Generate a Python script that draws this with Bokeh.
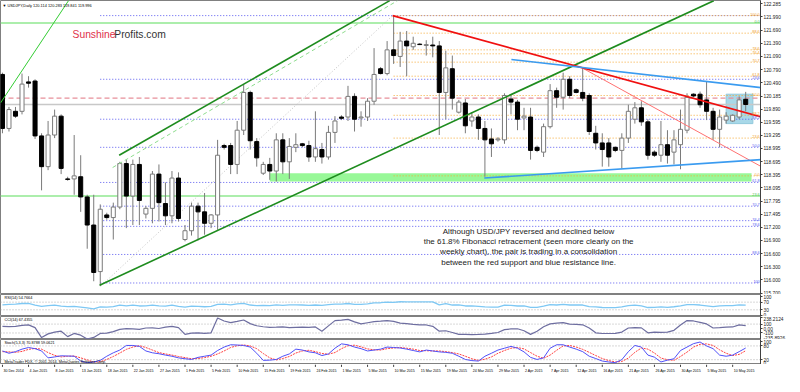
import numpy as np
from bokeh.plotting import figure
from bokeh.layouts import column
from bokeh.models import (Range1d, FixedTicker, PrintfTickFormatter, Label,
                          ColumnDataSource, CustomJSTickFormatter)
from bokeh.core.properties import value
from bokeh.embed import file_html
from bokeh.resources import INLINE

FONT = "Liberation Sans"

# ---------------- data ----------------
date_labels = ["30 Dec 2014", "4 Jan 2015", "8 Jan 2015", "13 Jan 2015", "18 Jan 2015",
               "22 Jan 2015", "27 Jan 2015", "1 Feb 2015", "5 Feb 2015", "10 Feb 2015",
               "15 Feb 2015", "19 Feb 2015", "24 Feb 2015", "1 Mar 2015", "5 Mar 2015",
               "10 Mar 2015", "15 Mar 2015", "19 Mar 2015", "24 Mar 2015", "29 Mar 2015",
               "2 Apr 2015", "7 Apr 2015", "12 Apr 2015", "16 Apr 2015", "21 Apr 2015",
               "26 Apr 2015", "30 Apr 2015", "5 May 2015", "10 May 2015"]
date_bar_index = list(range(0, 113, 4))

opens = [120.68, 119.45, 119.84, 119.84, 120.51, 120.53, 119.28, 118.58, 119.30, 119.73,
         118.30, 118.30, 118.35, 117.89, 117.25, 116.19, 117.48, 117.42, 117.66, 118.65,
         117.91, 118.63, 117.50, 117.63, 118.41, 117.74, 117.46, 118.32, 116.92, 117.12,
         117.68, 117.55, 117.29, 117.48, 119.06, 119.06, 118.63, 119.41, 120.27, 119.15,
         118.43, 118.63, 118.48, 119.19, 118.69, 119.02, 119.10, 119.06, 118.80, 118.97,
         118.80, 119.36, 119.71, 119.71, 120.18, 119.69, 119.71, 120.07, 120.81, 120.70,
         121.24, 121.09, 121.44, 121.31, 121.37, 121.34, 121.35, 121.33, 120.27, 120.81,
         119.82, 120.03, 119.62, 119.71, 119.45, 119.21, 119.19, 119.19, 120.12, 120.05,
         119.69, 119.71, 119.02, 118.91, 119.49, 120.31, 120.16, 120.57, 120.33, 120.27,
         120.20, 119.34, 119.12, 119.12, 119.02, 118.95, 119.23, 119.66, 119.92, 119.60,
         118.91, 118.84, 119.08, 118.91, 119.08, 119.41, 120.23, 120.23, 120.10, 119.84,
         119.43, 119.64, 119.62, 119.71, 120.114]
highs = [120.72, 119.94, 119.94, 120.70, 120.64, 120.57, 119.34, 119.62, 119.88, 119.77,
         118.35, 119.30, 118.84, 117.94, 117.94, 117.72, 117.53, 117.76, 118.69, 118.74,
         118.74, 118.80, 117.68, 118.48, 118.63, 118.22, 118.48, 118.45, 117.25, 117.76,
         117.76, 117.98, 117.50, 119.19, 119.10, 119.12, 119.62, 120.46, 120.31, 119.23,
         118.69, 118.78, 119.34, 119.34, 119.23, 119.34, 119.12, 119.17, 119.84, 119.12,
         119.51, 119.73, 119.75, 120.42, 120.25, 119.84, 120.14, 121.28, 120.85, 121.44,
         122.02, 121.65, 121.67, 121.54, 121.39, 121.46, 121.54, 121.44, 121.22, 121.11,
         120.10, 120.12, 119.82, 119.77, 119.62, 119.45, 119.25, 120.25, 120.20, 120.10,
         119.92, 119.92, 119.06, 119.56, 120.46, 120.38, 120.72, 120.64, 120.36, 120.81,
         120.25, 119.51, 119.34, 119.23, 119.04, 119.34, 119.99, 120.05, 120.07, 119.66,
         118.95, 119.62, 119.41, 119.41, 119.88, 120.25, 120.25, 120.29, 120.51, 119.92,
         119.88, 119.82, 119.77, 120.18, 120.283]
lows = [119.34, 119.38, 119.69, 119.77, 120.38, 119.21, 118.04, 118.50, 119.23, 118.41,
        118.26, 117.94, 117.55, 116.71, 115.97, 115.86, 117.37, 116.92, 117.61, 117.18,
        117.25, 117.25, 117.40, 117.29, 117.33, 117.25, 117.29, 117.33, 116.88, 117.01,
        116.90, 117.03, 117.18, 117.14, 118.97, 118.41, 118.41, 119.30, 118.97, 118.58,
        118.39, 118.28, 118.24, 118.41, 118.30, 118.91, 119.02, 118.69, 118.69, 118.65,
        118.74, 119.12, 119.64, 119.62, 119.38, 119.49, 119.62, 119.99, 120.68, 120.66,
        120.92, 120.85, 120.64, 121.24, 121.35, 121.11, 121.07, 119.30, 119.66, 119.88,
        119.79, 119.34, 119.49, 119.19, 118.35, 118.80, 119.15, 119.10, 119.77, 119.41,
        119.41, 118.74, 118.91, 118.80, 119.45, 119.92, 119.88, 120.14, 120.25, 120.07,
        119.30, 118.97, 118.58, 118.58, 118.91, 118.54, 119.12, 119.56, 119.51, 118.74,
        118.80, 118.69, 118.65, 118.63, 118.52, 119.34, 120.16, 119.92, 119.64, 119.19,
        119.02, 119.56, 119.60, 119.66, 119.841]
closes = [119.45, 119.88, 119.73, 120.46, 120.48, 119.28, 118.58, 119.30, 119.73, 118.54,
          118.29, 118.37, 117.89, 117.25, 116.17, 117.61, 117.42, 117.66, 118.65, 117.91,
          118.63, 117.81, 117.63, 118.41, 117.76, 117.46, 118.32, 117.40, 117.12, 117.68,
          117.55, 117.29, 117.48, 118.84, 119.02, 118.63, 119.41, 120.27, 119.17, 118.78,
          118.63, 118.48, 119.19, 118.69, 119.04, 119.08, 119.06, 118.80, 118.99, 118.80,
          119.36, 119.62, 119.68, 120.18, 119.66, 119.71, 120.07, 120.68, 120.70, 121.24,
          121.11, 121.44, 121.33, 121.39, 121.36, 121.36, 121.33, 120.27, 120.83, 120.14,
          120.05, 119.51, 119.71, 119.45, 119.19, 119.10, 119.21, 120.20, 120.05, 119.66,
          119.73, 118.95, 118.95, 119.49, 120.31, 120.16, 120.57, 120.20, 120.27, 120.14,
          119.38, 119.12, 118.97, 118.80, 118.95, 119.23, 119.84, 119.92, 119.60, 118.84,
          118.84, 119.08, 118.84, 119.19, 119.43, 120.16, 120.19, 119.99, 119.84, 119.43,
          119.71, 119.73, 119.75, 120.10, 119.996]

rsi = [56, 58, 60, 63, 63, 55, 48, 52, 54, 49,
       47, 48, 44, 40, 35, 45, 44, 47, 54, 50,
       54, 50, 51, 55, 51, 49, 54, 48, 44, 49,
       48, 46, 48, 58, 60, 56, 61, 64, 55, 52,
       53, 52, 56, 53, 56, 56, 55, 53, 55, 53,
       57, 60, 60, 63, 58, 58, 61, 66, 67, 70,
       69, 72, 71, 71, 71, 71, 71, 56, 62, 55,
       56, 50, 51, 48, 45, 44, 44, 54, 53, 50,
       50, 43, 43, 49, 57, 55, 58, 55, 56, 55,
       47, 45, 42, 41, 41, 45, 52, 54, 50, 42,
       43, 45, 43, 46, 50, 57, 57, 55, 51, 47,
       51, 52, 52, 56, 54.7664]
cci = [48, 45, 50, 70, 83, 20, -204, -120, -80, -60,
       -182, -110, -150, -235.89, -200, -110, -104, -70, -20, -3,
       -10, -20, 12, 15, 0, 33, 48, 20, -132, -105,
       -100, -110, -96, 238.21, 170, 134, 160, 191, 110, 62,
       40, 26, 30, 35, 20, 25, 30, 28, 35, -60,
       60, 178, 190, 205, 150, 104, 130, 156, 165, 178,
       160, 120, 110, 95, 83, 80, 50, -60, -50, -90,
       -132, -132, -135, -132, -125, -110, -90, -24, -10, -5,
       -50, -132, -60, 40, 104, 120, 134, 100, 95, 83,
       10, -96, -112, -112, -110, -80, 12, 20, 15, -96,
       -80, -85, -82, -40, 80, 178, 170, 140, 104, 12,
       20, 30, 35, 83, 67.4355]
stoch_k = [58, 48, 55, 66, 73, 68, 58, 28, 32, 37,
           36, 35, 14, 7, 10, 17, 35, 50, 62, 82,
           82, 78, 58, 50, 46, 40, 35, 28, 24, 21,
           30, 35, 40, 60, 75, 85, 84, 82, 75, 48,
           17, 18, 21, 35, 45, 66, 62, 54, 50, 38,
           45, 70, 89, 85, 75, 68, 58, 62, 66, 75,
           73, 71, 66, 60, 54, 62, 58, 54, 52, 48,
           35, 21, 16, 14, 35, 48, 62, 70, 78, 70,
           54, 30, 21, 28, 70, 85, 85, 75, 66, 55,
           35, 25, 14, 10, 7, 20, 55, 82, 75, 40,
           31, 10, 18, 24, 60, 75, 90, 97, 80, 68,
           40, 35, 40, 55, 70.8788]
stoch_d = [55, 54, 52, 56, 65, 69, 66, 51, 39, 32,
           35, 36, 28, 19, 10, 11, 21, 34, 49, 65,
           75, 81, 73, 62, 51, 45, 40, 34, 29, 24,
           25, 29, 35, 45, 58, 73, 81, 84, 80, 68,
           47, 28, 19, 25, 34, 49, 58, 61, 55, 47,
           44, 51, 68, 81, 83, 76, 67, 63, 62, 68,
           71, 73, 70, 66, 60, 59, 58, 58, 55, 51,
           45, 35, 24, 17, 22, 32, 48, 60, 70, 73,
           67, 51, 35, 26, 40, 61, 80, 82, 75, 65,
           52, 38, 25, 16, 10, 12, 27, 52, 71, 66,
           49, 27, 20, 17, 34, 53, 75, 87, 89, 82,
           63, 48, 38, 43, 59.0621]

price_ticks = [122.285, 121.990, 121.690, 121.390, 121.090, 120.790, 120.490, 120.185,
               119.890, 119.595, 119.295, 118.995, 118.695, 118.395, 118.095, 117.795,
               117.495, 117.200, 116.900, 116.600, 116.300, 116.000, 115.700]

# Fibonacci retracement levels (blue: Jan low -> Mar high, orange: Mar high -> Mar low)
blue_fib_start = 15
blue_fib_levels = [122.02, 120.57, 119.66, 119.02, 118.22, 117.68, 117.35, 117.22, 116.58, 115.93]
blue_fib_labels = ["", "23.6", "38.2", "50.0", "61.8", "70.7", "76.4", "78.6", "88.6", "100"]
orange_fib_start = 60
orange_fib_levels = [122.02, 121.62, 121.24, 121.15, 120.96, 120.64, 120.20, 119.75, 119.23, 118.37]
orange_fib_labels = ["100.0", "88.6", "78.6", "76.4", "70.7", "61.8", "50.0", "38.2", "23.6", "0.0"]
green_fib_levels = [121.85, 117.91]
green_fib_labels = ["0.0", "23.6"]

red_level = 120.14
bid_price = 119.996

# trend lines: (bar index list, price list)
lime_line = ([-0.3, 10.15], [120.03, 122.364])
green_upper = ([17.9, 59.4], [118.84, 122.36])
green_dashed = ([16.9, 60.6], [118.56, 122.36])
green_lower = ([14.9, 109.1], [115.88, 122.36])
gray_dotted = ([15.07, 59.85], [115.86, 122.02])
red_main = ([59.85, 116.4], [122.02, 119.71])
red_thin = ([88.66, 116.4], [120.85, 118.58])
blue_upper = ([78.06, 116.4], [121.02, 120.38])
blue_lower = ([73.9, 116.4], [118.32, 118.74])

support_zone = dict(left=41.0, right=114.9, bottom=118.24, top=118.43)
highlight_box = dict(left=111.0, right=115.1, bottom=119.56, top=120.23)

note_lines = ["Although USD/JPY reversed and declined below",
              "the 61.8% Fibonacci retracement (seen more clearly on the",
              "weekly chart), the pair is trading in a consolidation",
              "between the red support and blue resistance line."]
note_y = [117.11, 116.88, 116.64, 116.40]
note_x = 80.7

# ---------------- layout ----------------
X0, X1 = -0.3, 116.27
FW = 760
xr = Range1d(X0, X1)


def panel(h, y0, y1):
    p = figure(frame_width=FW, frame_height=h, x_range=xr, y_range=Range1d(y0, y1),
               output_backend="svg", toolbar_location=None, title=None,
               x_axis_location=None, y_axis_location="right", min_border=0,
               background_fill_color="white", border_fill_color="white")
    p.grid.visible = False
    p.outline_line_color = "#808080"
    p.outline_line_width = 1
    ax = p.yaxis[0]
    ax.major_label_text_font_size = "4.8px"
    ax.major_label_text_font = FONT
    ax.major_label_text_color = "#202020"
    ax.major_tick_out = 2
    ax.major_tick_in = 0
    ax.minor_tick_out = 0
    ax.minor_tick_in = 0
    ax.major_label_standoff = 1
    ax.axis_line_color = "#404040"
    ax.major_tick_line_color = "#404040"
    return p


n = len(closes)
idx = np.arange(n)

# ---- main chart ----
pm = panel(294, 115.668, 122.364)
pm.yaxis[0].ticker = FixedTicker(ticks=price_ticks)
pm.yaxis[0].formatter = PrintfTickFormatter(format="%.3f")

pm.quad(left=[support_zone["left"]], right=[support_zone["right"]],
        bottom=[support_zone["bottom"]], top=[support_zone["top"]],
        fill_color="#98F898", line_color=None)
pm.quad(left=[highlight_box["left"]], right=[highlight_box["right"]],
        bottom=[highlight_box["bottom"]], top=[highlight_box["top"]],
        fill_color="#A8D8E8", line_color="#90C8DC", line_width=1)

# horizontal fib / level lines
pm.segment(x0=[blue_fib_start] * len(blue_fib_levels), x1=[X1] * len(blue_fib_levels),
           y0=blue_fib_levels, y1=blue_fib_levels, line_color="#5A5AF0",
           line_width=1, line_dash="1 2")
pm.segment(x0=[orange_fib_start] * len(orange_fib_levels), x1=[X1] * len(orange_fib_levels),
           y0=orange_fib_levels, y1=orange_fib_levels, line_color="#F5A833",
           line_width=1, line_dash="1 2")
pm.segment(x0=[X0] * 2, x1=[X1] * 2, y0=green_fib_levels, y1=green_fib_levels,
           line_color="#90E890", line_width=1.5)
pm.segment(x0=[X0], x1=[X1], y0=[red_level], y1=[red_level], line_color="#E8909A",
           line_width=1.2, line_dash="5 3")
pm.segment(x0=[X0], x1=[X1], y0=[bid_price], y1=[bid_price], line_color="#C8C8C8",
           line_width=1.5)
pm.line(gray_dotted[0], gray_dotted[1], line_color="#C0C0C0", line_width=1, line_dash="1 2")

# candles
up = [c >= o for o, c in zip(opens, closes)]
src = ColumnDataSource(dict(
    x=idx, h=highs, l=lows,
    top=np.maximum(opens, closes), bot=np.minimum(opens, closes),
    fill=["white" if u else "black" for u in up],
    edge=["#7A7A7A" if u else "black" for u in up]))
pm.segment(x0="x", y0="h", x1="x", y1="l", source=src, line_color="#7A7A7A", line_width=1)
pm.vbar(x="x", width=0.62, top="top", bottom="bot", fill_color="fill",
        line_color="edge", line_width=1, source=src)

# trend lines
pm.line(lime_line[0], lime_line[1], line_color="#33CC33", line_width=1)
pm.line(green_dashed[0], green_dashed[1], line_color="#8EDC8E", line_width=1, line_dash="4 3")
pm.line(green_upper[0], green_upper[1], line_color="#1E8C1E", line_width=1.6)
pm.line(green_lower[0], green_lower[1], line_color="#1E8C1E", line_width=1.6)
pm.line(red_thin[0], red_thin[1], line_color="#FF7070", line_width=1)
pm.line(red_main[0], red_main[1], line_color="#F01010", line_width=1.8)
pm.line(blue_upper[0], blue_upper[1], line_color="#3A9BF0", line_width=1.6)
pm.line(blue_lower[0], blue_lower[1], line_color="#3A9BF0", line_width=1.6)

# level labels on the right
lx = 116.15
pm.text(x=[lx] * len(blue_fib_levels), y=blue_fib_levels, text=blue_fib_labels,
        text_font=value(FONT), text_font_size="3.8px", text_color="#5A5AF0",
        text_align="right", text_baseline="bottom")
pm.text(x=[lx] * len(orange_fib_levels), y=orange_fib_levels, text=orange_fib_labels,
        text_font=value(FONT), text_font_size="3.8px", text_color="#F0A030",
        text_align="right", text_baseline="bottom")
pm.text(x=[lx] * 2, y=green_fib_levels, text=green_fib_labels,
        text_font=value(FONT), text_font_size="3.8px", text_color="#50C050",
        text_align="right", text_baseline="bottom")

# annotation text
pm.text(x=[note_x] * len(note_lines), y=note_y, text=note_lines, text_font=value(FONT),
        text_font_size="8px", text_color="#1A1A1A", text_align="center",
        text_baseline="middle")

pm.add_layout(Label(x=10.75, y=121.59, text="Sunshine", text_font=FONT,
                    text_font_size="10.3px", text_color="#E0304A",
                    text_baseline="alphabetic"))
pm.add_layout(Label(x=17.15, y=121.59, text="Profits.com", text_font=FONT,
                    text_font_size="10.3px", text_color="#333333",
                    text_baseline="alphabetic"))
pm.add_layout(Label(x=0.0, y=122.26, text="\u25bc USDJPY,Daily  120.114 120.283 119.841 119.996",
                    text_font=FONT, text_font_size="3.9px", text_color="#000000",
                    text_baseline="middle"))
# price boxes on the axis
pm.add_layout(Label(x=X1, y=red_level, x_offset=1, text="120.140", text_font=FONT,
                    text_font_size="4.8px", text_color="white", text_baseline="middle",
                    background_fill_color="#E02020", padding=1))
pm.add_layout(Label(x=X1, y=bid_price, x_offset=1, text="119.996", text_font=FONT,
                    text_font_size="4.8px", text_color="white", text_baseline="middle",
                    background_fill_color="#000000", padding=1))

# ---- RSI ----
pr = panel(22, -5, 110)
pr.yaxis[0].ticker = FixedTicker(ticks=[0, 30, 70, 100])
pr.segment(x0=[X0] * 2, x1=[X1] * 2, y0=[30, 70], y1=[30, 70], line_color="#B0B0B0",
           line_width=1, line_dash="1 2")
pr.line(idx, rsi, line_color="#7EC8F4", line_width=1.3)
pr.add_layout(Label(x=0.3, y=92, text="RSI(14) 54.7664", text_font=FONT,
                    text_font_size="3.8px", text_color="#000000", text_baseline="middle"))

# ---- CCI ----
pc = panel(23, -246.8, 270.5)
pc.yaxis[0].ticker = FixedTicker(ticks=[-235.8926, -100, 0, 100, 238.2124])
pc.yaxis[0].formatter = CustomJSTickFormatter(code="""
    if (tick == 0) { return '0.00'; }
    if (Math.abs(tick) == 100) { return tick.toFixed(0); }
    return tick.toFixed(4);
""")
pc.segment(x0=[X0] * 2, x1=[X1] * 2, y0=[-100, 100], y1=[-100, 100], line_color="#B0B0B0",
           line_width=1, line_dash="1 2")
pc.line(idx, cci, line_color="#6E6EA0", line_width=1.2)
pc.add_layout(Label(x=0.3, y=200, text="CCI(14) 67.4355", text_font=FONT,
                    text_font_size="3.8px", text_color="#000000", text_baseline="middle"))

# ---- Stochastic ----
ps = panel(25, -1, 108)
ps.yaxis[0].ticker = FixedTicker(ticks=[0, 20, 80, 100])
ps.segment(x0=[X0] * 2, x1=[X1] * 2, y0=[20, 80], y1=[20, 80], line_color="#B0B0B0",
           line_width=1, line_dash="1 2")
ps.line(idx, stoch_d, line_color="#FF4040", line_width=1, line_dash="2 1")
ps.line(idx, stoch_k, line_color="#5050F8", line_width=1)
ps.add_layout(Label(x=0.3, y=92, text="Stoch(5,3,3) 70.8788 59.0621", text_font=FONT,
                    text_font_size="3.8px", text_color="#000000", text_baseline="middle"))
ps.add_layout(Label(x=0.3, y=12, text="MetaTrader FDX, \u00a9 2001-2014, MetaQuotes Software Corp.",
                    text_font=FONT, text_font_size="3.8px", text_color="#000000",
                    text_baseline="middle"))

# ---- date labels ----
DW = 784
pdx = figure(frame_width=DW, frame_height=12,
             x_range=Range1d(X0, X0 + (X1 - X0) * DW / FW), y_range=Range1d(0, 1),
             output_backend="svg", toolbar_location=None, title=None,
             x_axis_location=None, y_axis_location=None, min_border=0,
             background_fill_color="white", border_fill_color="white")
pdx.grid.visible = False
pdx.outline_line_color = None
pdx.segment(x0=date_bar_index, x1=date_bar_index, y0=[1.0] * len(date_bar_index),
            y1=[0.8] * len(date_bar_index), line_color="#404040", line_width=1)
pdx.text(x=[i + 0.15 for i in date_bar_index], y=[0.5] * len(date_bar_index),
         text=date_labels, text_font=value(FONT), text_font_size="3.6px",
         text_color="#000000", text_align="left", text_baseline="middle")

layout = column(pm, pr, pc, ps, pdx, spacing=0)

open("out.html", "w").write(file_html(layout, INLINE))
